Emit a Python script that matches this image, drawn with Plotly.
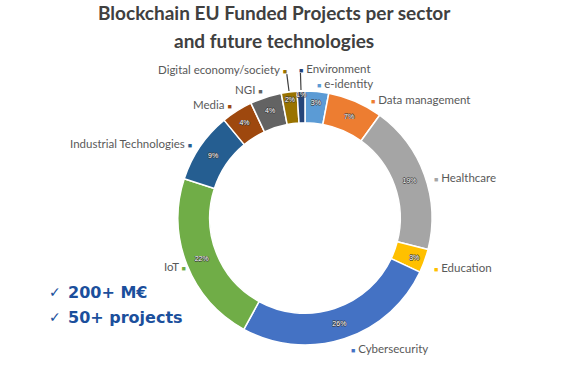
import math
import plotly.graph_objects as go

# ---------------- data ----------------
sectors = ["e-identity", "Data management", "Healthcare", "Education", "Cybersecurity",
           "IoT", "Industrial Technologies", "Media", "NGI", "Digital economy/society", "Environment"]
shares = [3, 7, 19, 3, 26, 22, 9, 4, 4, 2, 1]
colors = ["#5B9BD5", "#ED7D31", "#A5A5A5", "#FFC000", "#4472C4",
          "#70AD47", "#255E91", "#9E480E", "#636363", "#997300", "#264478"]
title_lines = ["Blockchain EU Funded Projects per sector", "and future technologies"]
highlights = ["200+ M€", "50+ projects"]

# ---------------- layout helpers ----------------
W, H = 567, 367
CX, CY, R = 305, 218, 127
HOLE = 0.75
LABEL_R = 138
LEADER_R = 150
LABEL_DY = 3
# small hand nudges (pixels) for labels that the reference places off the radial line
LABEL_NUDGE = {"Data management": (12, 5), "IoT": (8, -5), "Healthcare": (0, 3), "Cybersecurity": (4, -4)}


def px(x):
    return x / W


def py(y):
    return 1 - y / H


outline = "-0.7px 0 #3a3a3a, 0.7px 0 #3a3a3a, 0 -0.7px #3a3a3a, 0 0.7px #3a3a3a"
fig = go.Figure(go.Pie(
    labels=sectors, values=shares, sort=False, direction="clockwise", rotation=0,
    hole=HOLE,
    marker=dict(colors=colors, line=dict(color="white", width=1.5)),
    texttemplate="%{value}%", textposition="inside", insidetextorientation="horizontal",
    textfont=dict(size=7, color="white", family="Liberation Sans", shadow=outline),
    domain=dict(x=[px(CX - R), px(CX + R)], y=[py(CY + R), py(CY - R)]),
    showlegend=False, hoverinfo="label+percent",
))

annotations = []
shapes = []
total = sum(shares)
cum = 0
for name, v, c in zip(sectors, shares, colors):
    mid = (cum + v / 2) / total * 2 * math.pi
    cum += v
    s, co = math.sin(mid), math.cos(mid)
    small = v <= 2
    rl = LEADER_R if small else LABEL_R
    nx, ny = LABEL_NUDGE.get(name, (0, 0))
    x = CX + rl * s + nx
    y = CY - rl * co + (0 if small else LABEL_DY) + ny
    if small:
        shapes.append(dict(type="line", xref="paper", yref="paper",
                           x0=px(CX + (R + 1) * s), y0=py(CY - (R + 1) * co),
                           x1=px(CX + (rl - 5) * s), y1=py(CY - (rl - 5) * co),
                           line=dict(color="#404040", width=1.2)))
    sq = f'<span style="color:{c};font-size:7px">■</span>'
    if s > -0.05:
        annotations.append(dict(text=f"{sq} {name}", x=px(x - 3), y=py(y), xanchor="left",
                                yanchor="middle", xref="paper", yref="paper", showarrow=False))
    else:
        annotations.append(dict(text=f"{name} {sq}", x=px(x + 3), y=py(y), xanchor="right",
                                yanchor="middle", xref="paper", yref="paper", showarrow=False))
for a in annotations:
    a["font"] = dict(family="Lato", size=11.5, color="#595959")

# title
for i, line in enumerate(title_lines):
    annotations.append(dict(text=f"<b>{line}</b>", x=px(274), y=py(13 + 28 * i), xanchor="center",
                            yanchor="middle", xref="paper", yref="paper", showarrow=False,
                            font=dict(family="Lato", size=19, color="#404040")))

# highlights
for i, line in enumerate(highlights):
    yy = 292 + 25 * i
    annotations.append(dict(text="✓", x=px(47), y=py(yy), xanchor="left", yanchor="middle",
                            xref="paper", yref="paper", showarrow=False,
                            font=dict(family="DejaVu Sans", size=14, color="#1B4F9C")))
    annotations.append(dict(text=f"<b>{line}</b>", x=px(66), y=py(yy), xanchor="left", yanchor="middle",
                            xref="paper", yref="paper", showarrow=False,
                            font=dict(family="DejaVu Sans", size=16, color="#1B4F9C")))

fig.update_layout(
    width=W, height=H, margin=dict(l=0, r=0, t=0, b=0),
    paper_bgcolor="white", plot_bgcolor="white",
    annotations=annotations, shapes=shapes,
    uniformtext=dict(minsize=7, mode="show"),
)

fig.write_html("out.html", config={"displayModeBar": False},
               post_script="document.body.style.margin='0px';")
